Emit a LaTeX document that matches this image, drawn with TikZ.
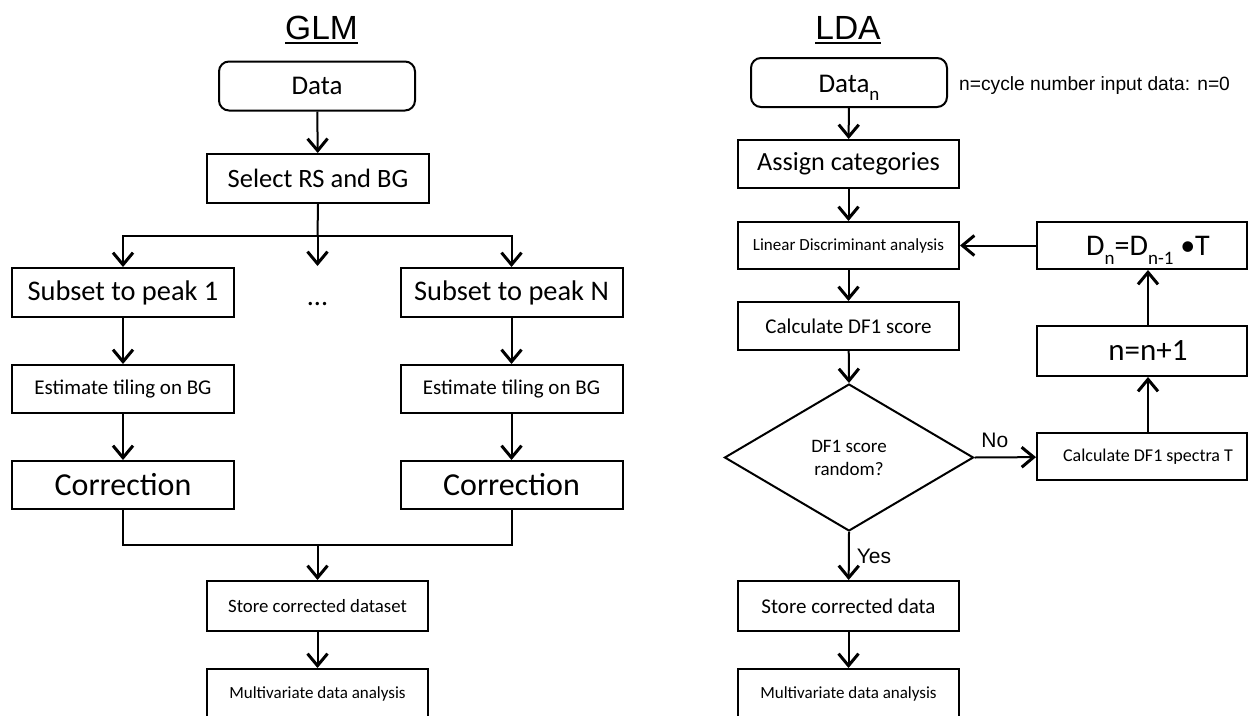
\documentclass[tikz,border=0pt]{standalone}
\usepackage{fontspec}
\setmainfont{Carlito}
\newfontfamily\arialf{Liberation Sans}
\usetikzlibrary{arrows.meta,shapes.geometric}
\newcommand\fsz[1]{\fontsize{#1}{#1}\selectfont}
\newcommand\lowsub[1]{\raisebox{-0.3em}{\fontsize{19}{19}\selectfont #1}}
\begin{document}
\begin{tikzpicture}[x=1pt,y=-1pt,
  box/.style={draw,rectangle,line width=2pt,inner sep=0pt,minimum width=222pt,minimum height=48pt,align=center},
  rbox/.style={box,rounded corners=10pt,minimum width=196pt,minimum height=49pt},
  arr/.style={line width=2pt,-{Straight Barb[length=12pt,width=20pt,line width=3pt]}},
  ln/.style={line width=2pt},
  ttl/.style={font=\arialf\fsz{33.5},inner sep=0pt,anchor=base},
  lbl/.style={font=\arialf\fsz{21},inner sep=0pt},
]
\clip (0,0) rectangle (1250,715);
\useasboundingbox (0,0) rectangle (1250,715);

% ---------------- GLM ----------------
\node[ttl] (t1) at (321.5,39) {GLM};
\draw[ln] ([yshift=-4pt]t1.base west) -- ([yshift=-4pt]t1.base east);

\node[rbox,font=\fsz{27}] (d1) at (317,86) {Data};
\node[box,font=\fsz{26.5},minimum height=49pt] (s1) at (318,178.5) {Select RS and BG};

\node[box,font=\fsz{28.4},minimum height=49pt] (p1) at (123,292.5) {Subset to peak 1};
\node[box,font=\fsz{28.4},minimum height=49pt] (pN) at (511.5,292.5) {Subset to peak N};
\node[font=\fsz{28}] (dots) at (317.5,304) {...};

\node[box,font=\fsz{21}] (e1) at (123,389) {Estimate tiling on BG};
\node[box,font=\fsz{21}] (eN) at (511.5,389) {Estimate tiling on BG};
\node[box,font=\fsz{32}] (c1) at (123,485) {Correction};
\node[box,font=\fsz{32}] (cN) at (511.5,485) {Correction};

\node[box,font=\fsz{18.8},minimum width=221pt,minimum height=50pt] (st1) at (317.5,606) {Store corrected dataset};
\node[box,font=\fsz{17},minimum width=221pt,minimum height=50pt] (mv1) at (317.5,694) {};
\node[font=\fsz{17},inner sep=0pt] (mv1t) at (317.5,694) {Multivariate data analysis};

\coordinate (j1) at (317.5,236);
\coordinate (jm) at (317.5,266);
\coordinate (m1) at (317.5,545);

\draw[arr] (d1) -- (s1);
\draw[ln] (s1.south) -- (j1);
\draw[arr] (j1) -| (p1.north);
\draw[arr] (j1) -| (pN.north);
\draw[arr] (j1) -- (jm);
\draw[arr] (p1) -- (e1);
\draw[arr] (e1) -- (c1);
\draw[arr] (pN) -- (eN);
\draw[arr] (eN) -- (cN);
\draw[ln] (c1.south) -- (c1.south |- m1) -- (cN.south |- m1) -- (cN.south);
\draw[arr] (m1) -- (st1);
\draw[arr] (st1) -- (mv1);

% ---------------- LDA ----------------
\node[ttl] (t2) at (848,39) {LDA};
\draw[ln] ([yshift=-4pt]t2.base west) -- ([yshift=-4pt]t2.base east);

\node[rbox] (d2) at (849,82.5) {};
\node[font=\fsz{27},inner sep=0pt,anchor=base] (d2t) at (849,92) {Data\lowsub{n}};
\node[font=\arialf\fsz{19.2},inner sep=0pt,anchor=base west] (note) at (959,90) {n=cycle number input data: n=0};

\node[box,font=\fsz{26.2},minimum width=221pt] (as) at (848.5,164) {Assign categories};
\node[box,font=\fsz{17},minimum width=221pt,minimum height=47pt] (lda) at (848.5,245.5) {Linear Discriminant analysis};
\node[box,font=\fsz{21},minimum width=221pt] (cs) at (848.5,326) {Calculate DF1 score};
\node[draw,diamond,line width=2pt,inner sep=0pt,minimum width=249pt,minimum height=147pt,align=center,font=\fontsize{19}{23}\selectfont] (dia) at (849,457.5) {DF1 score\\random?};
\node[box,font=\fsz{21},minimum width=221pt,minimum height=50pt] (st2) at (848.5,606) {Store corrected data};
\node[box,font=\fsz{17},minimum width=221pt,minimum height=50pt] (mv2) at (848.5,694) {};
\node[font=\fsz{17},inner sep=0pt] (mv2t) at (848.5,694) {Multivariate data analysis};

\node[box,minimum width=210pt,minimum height=47pt] (dd) at (1142,245.5) {};
\node[font=\fsz{30},inner sep=0pt,anchor=base] (ddt) at (1148,255) {D\lowsub{n}=D\lowsub{n-1} •T};
\node[box,minimum width=210pt,minimum height=50pt] (nn) at (1142,351) {};
\node[font=\fsz{31},inner sep=0pt] (nnt) at (1148,351) {n=n+1};
\node[box,minimum width=210pt,minimum height=47pt] (sp) at (1142,456.5) {};
\node[font=\fsz{18},inner sep=0pt] (spt) at (1148,456.5) {Calculate DF1 spectra T};

\draw[arr] (d2) -- (as);
\draw[arr] (as) -- (lda);
\draw[arr] (lda) -- (cs);
\draw[arr] (cs) -- (dia.north);
\draw[arr] (dia.east) -- node[lbl,pos=0.33,above,yshift=9pt] (no) {No} (sp);
\draw[arr] (sp.north -| spt) -- (nn.south -| nnt);
\draw[arr] (nn.north -| nnt) -- (dd.south -| ddt);
\draw[arr] (dd) -- (lda);
\draw[arr] (dia.south) -- node[lbl,midway,right,xshift=7pt] (yes) {Yes} (st2);
\draw[arr] (st2) -- (mv2);
\end{tikzpicture}
\end{document}
